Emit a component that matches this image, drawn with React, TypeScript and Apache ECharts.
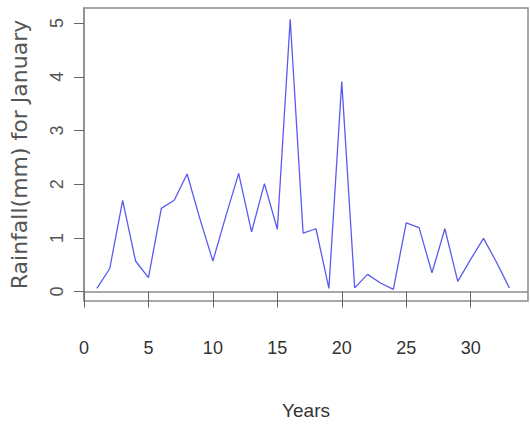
import React, { useEffect, useRef } from "react";
import * as echarts from "echarts";

const years: number[] = [1, 2, 3, 4, 5, 6, 7, 8, 9, 10, 11, 12, 13, 14, 15, 16, 17, 18, 19, 20, 21, 22, 23, 24, 25, 26, 27, 28, 29, 30, 31, 32, 33];
const rainfall: number[] = [0.06, 0.43, 1.7, 0.57, 0.26, 1.55, 1.7, 2.19, 1.35, 0.57, 1.4, 2.2, 1.11, 2.01, 1.16, 5.07, 1.09, 1.17, 0.06, 3.91, 0.07, 0.32, 0.16, 0.04, 1.28, 1.19, 0.35, 1.17, 0.19, 0.6, 0.99, 0.55, 0.07];
const xTicks: number[] = [0, 5, 10, 15, 20, 25, 30];
const yTicks: number[] = [0, 1, 2, 3, 4, 5];

export default function App() {
  const ref = useRef<HTMLDivElement>(null);
  useEffect(() => {
    if (!ref.current) return;
    const chart = echarts.init(ref.current, null, { renderer: "svg" });
    chart.setOption({
      animation: false,
      backgroundColor: "#ffffff",
      grid: {
        left: 81,
        top: 8,
        right: 2,
        bottom: 127,
        show: true,
        borderColor: "#8c8c8c",
        borderWidth: 1.5,
        backgroundColor: "transparent",
      },
      xAxis: {
        type: "value",
        min: 0,
        max: 34.45,
        interval: 5,
        splitLine: { show: false },
        axisLine: { show: true, lineStyle: { color: "#8c8c8c", width: 1.5 } },
        axisTick: { show: true, inside: false, length: 16, customValues: xTicks, lineStyle: { color: "#666" } },
        axisLabel: {
          customValues: xTicks,
          margin: 38,
          fontSize: 18,
          fontFamily: "'Liberation Sans', Arial, sans-serif",
          color: "#333",
        },
        name: "Years",
        nameLocation: "middle",
        nameGap: 100,
        nameTextStyle: {
          fontSize: 19,
          fontFamily: "'Liberation Sans', Arial, sans-serif",
          color: "#333",
        },
      },
      yAxis: {
        type: "value",
        min: -0.175,
        max: 5.28,
        splitLine: { show: false },
        axisLine: { show: true, lineStyle: { color: "#8c8c8c", width: 1.5 } },
        axisTick: { show: true, inside: false, length: 10, customValues: yTicks, lineStyle: { color: "#666" } },
        axisLabel: {
          customValues: yTicks,
          rotate: 90,
          margin: 18,
          fontSize: 18,
          fontFamily: "'Liberation Sans', Arial, sans-serif",
          color: "#555",
        },
        name: "Rainfall(mm) for January",
        nameLocation: "middle",
        nameRotate: 90,
        nameGap: 54,
        nameTextStyle: {
          fontSize: 22,
          fontFamily: "'DejaVu Sans', sans-serif",
          color: "#555",
        },
      },
      series: [
        {
          type: "line",
          data: years.map((y, i) => [y, rainfall[i]]),
          showSymbol: false,
          symbol: "none",
          lineStyle: { color: "#5a5af0", width: 1.3 },
        },
      ],
    });
    return () => chart.dispose();
  }, []);
  return <div ref={ref} style={{ width: 530, height: 428, position: "absolute", left: 0, top: 0 }} />;
}
